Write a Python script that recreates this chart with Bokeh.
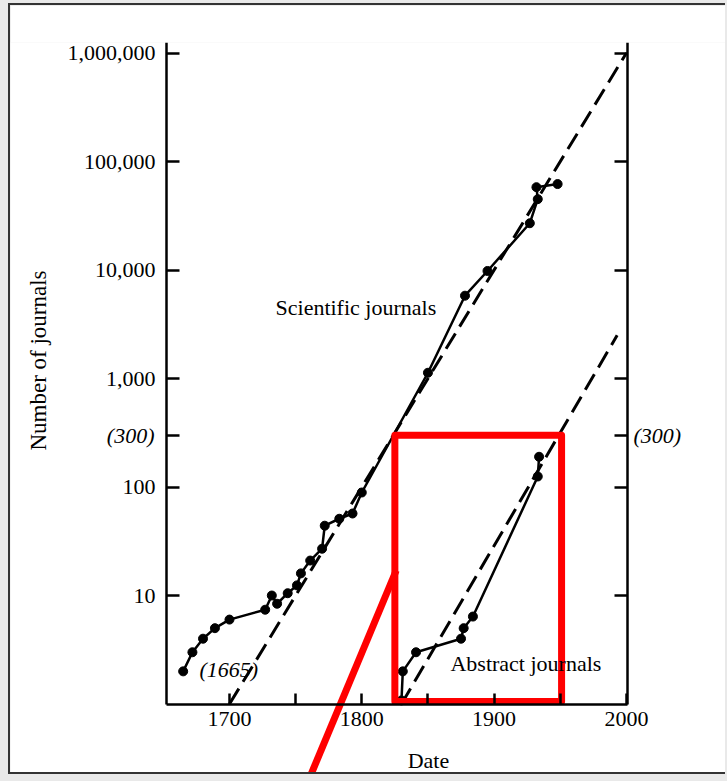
import math
from bokeh.plotting import figure
from bokeh.models import LogAxis, FixedTicker, Label, Range1d, GlobalInlineStyleSheet
from bokeh.embed import file_html
from bokeh.resources import INLINE

# ---- data ----
sci_years = [1665, 1672, 1680, 1689, 1700, 1727, 1732, 1736, 1744, 1751, 1754, 1761,
             1770, 1772, 1783, 1793, 1800, 1850, 1878, 1895, 1927, 1933, 1932, 1948]
sci_counts = [2, 3, 4, 5, 6, 7.4, 10, 8.4, 10.5, 12.4, 16, 21,
              27, 44, 51, 57, 89, 1130, 5800, 9800, 27000, 45000, 58000, 62000]

abs_years = [1830, 1831, 1841, 1875, 1877, 1884, 1933, 1934]
abs_counts = [1.08, 2, 3, 4, 5, 6.4, 125, 190]

sci_fit_years = [1700, 2000]
sci_fit_counts = [1, 1000000]
abs_fit_years = [1830, 1993]
abs_fit_counts = [1, 2500]

y_ticks = [10, 100, 300, 1000, 10000, 100000, 1000000]
y_tick_labels = ["10", "100", "", "1,000", "10,000", "100,000", "1,000,000"]
x_ticks = [1700, 1750, 1800, 1850, 1900, 1950, 2000]
x_tick_labels = ["1700", "", "1800", "", "1900", "", "2000"]

# chart extent (axes) and canvas extent
x_axis_start, x_axis_end = 1652.4, 2000.8
y_axis_start, y_axis_end = 1, 10 ** 6.097
x_canvas_start, x_canvas_end = 1534.5, 2076.4
y_canvas_start = 10 ** -0.668

# red highlight markup (box and pointer)
box_years = [1825, 1951]
box_counts = [1.055, 300]
pointer_years = [1826, 1753.4]
pointer_counts = [17, 0.129]

FONT = "Liberation Serif"
FS = "22px"

p = figure(width=717, height=771, output_backend="svg", toolbar_location=None,
           y_axis_type="log",
           x_range=Range1d(x_canvas_start, x_canvas_end),
           y_range=Range1d(y_canvas_start, y_axis_end),
           min_border_left=0, min_border_right=0, min_border_top=37, min_border_bottom=0)
p.outline_line_color = None
p.xgrid.visible = False
p.ygrid.visible = False
p.background_fill_color = "white"
p.border_fill_color = "white"
p.styles = {"margin-left": "8px", "margin-top": "3px",
            "border-left": "2px solid #333", "border-top": "2px solid #333",
            "border-bottom": "2px solid #333"}
p.stylesheets = [GlobalInlineStyleSheet(css="body { background-color: #e9e9e9; }")]

# left axis (drawn at the chart's left edge)
ya = p.yaxis[0]
ya.fixed_location = x_axis_start
ya.bounds = (y_axis_start, y_axis_end)
ya.ticker = FixedTicker(ticks=y_ticks, minor_ticks=[])
ya.major_label_overrides = {t: l for t, l in zip(y_ticks, y_tick_labels)}
ya.major_tick_in = 13
ya.major_tick_out = 0
ya.major_tick_line_width = 2.5
ya.axis_line_width = 2.5
ya.major_label_text_font = FONT
ya.major_label_text_font_size = FS
ya.major_label_text_color = "black"
ya.major_label_standoff = 11

# right axis (drawn at the chart's right edge)
ra = LogAxis(ticker=FixedTicker(ticks=y_ticks, minor_ticks=[]), bounds=(y_axis_start, y_axis_end),
             fixed_location=x_axis_end)
ra.major_label_overrides = {t: ("(300)" if t == 300 else "") for t in y_ticks}
ra.major_tick_in = 13
ra.major_tick_out = 0
ra.major_tick_line_width = 2.5
ra.axis_line_width = 2.5
ra.major_label_text_font = FONT
ra.major_label_text_font_style = "italic"
ra.major_label_text_font_size = FS
ra.major_label_text_color = "black"
ra.major_label_standoff = 6
p.add_layout(ra, "right")

# bottom axis (drawn at count = 1)
xa = p.xaxis[0]
xa.fixed_location = y_axis_start
xa.bounds = (x_axis_start, x_axis_end)
xa.ticker = FixedTicker(ticks=x_ticks, minor_ticks=[])
xa.major_label_overrides = {t: l for t, l in zip(x_ticks, x_tick_labels)}
xa.major_tick_in = 11
xa.major_tick_out = 0
xa.major_tick_line_width = 2.5
xa.axis_line_width = 2.5
xa.major_label_text_font = FONT
xa.major_label_text_font_size = FS
xa.major_label_text_color = "black"
xa.major_label_standoff = 8

# fitted dashed lines
p.line(sci_fit_years, sci_fit_counts, line_color="black", line_width=3, line_dash="18 8")
p.line(abs_fit_years, abs_fit_counts, line_color="black", line_width=3, line_dash="18 8")

# data series
p.line(sci_years, sci_counts, line_color="black", line_width=2.5)
p.scatter(sci_years, sci_counts, size=9, color="black")
p.line(abs_years, abs_counts, line_color="black", line_width=2.5)
p.scatter(abs_years, abs_counts, size=9, color="black")

# text annotations
def lab(x, y, text, align="left", style="normal", angle=0, size=FS):
    p.add_layout(Label(x=x, y=y, text=text, text_font=FONT, text_font_style=style,
                       text_font_size=size, text_baseline="middle", text_align=align,
                       text_color="black", angle=angle))

lab(1734.8, 4510, "Scientific journals")
lab(1867, 2.36, "Abstract journals")
lab(1677.3, 2.08, "(1665)", style="italic")
lab(1643.3, 300, "(300)", align="right", style="italic")
lab(1850.4, 0.30, "Date", align="center")
lab(1555.7, 1466, "Number of journals", align="center", angle=math.pi / 2, size="23px")

# red highlight
p.quad(left=box_years[0], right=box_years[1], bottom=box_counts[0], top=box_counts[1],
       fill_color=None, line_color="#ff0000", line_width=7, line_join="round")
p.line(pointer_years, pointer_counts, line_color="#ff0000", line_width=7)

open("out.html", "w").write(file_html(p, INLINE))
